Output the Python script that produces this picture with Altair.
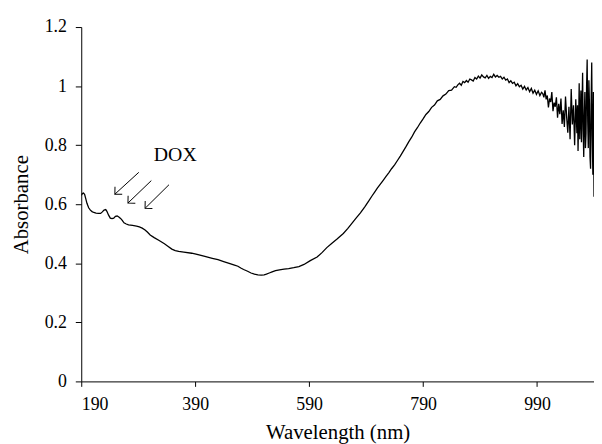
import altair as alt
import pandas as pd

# Spectrum (wavelength nm, absorbance)
wl_smooth = [190, 192, 194, 196, 198, 200, 203, 206, 209, 212, 216, 220, 224, 227, 230, 233, 235, 238, 241, 244,
             247, 250, 253, 256, 259, 262, 265, 269, 273, 280, 287, 292, 297, 302, 306, 311, 318, 326, 336, 342,
             349, 355, 361, 370, 384, 395, 407, 420, 430, 440, 451, 459, 465, 470, 475, 482, 488, 494, 500, 506,
             511, 515, 520, 525, 531, 538, 546, 554, 563, 572, 581, 592, 604, 613, 621, 630, 639, 650, 658, 665,
             672, 680, 688, 695]
ab_smooth = [0.630, 0.636, 0.638, 0.633, 0.618, 0.603, 0.588, 0.580, 0.575, 0.572, 0.570, 0.569, 0.569, 0.574, 0.580,
             0.582, 0.576, 0.563, 0.553, 0.551, 0.553, 0.559, 0.560, 0.557, 0.552, 0.545, 0.537, 0.533, 0.530, 0.528,
             0.526, 0.523, 0.519, 0.513, 0.506, 0.496, 0.487, 0.478, 0.466, 0.458, 0.448, 0.443, 0.440, 0.438, 0.434,
             0.429, 0.423, 0.417, 0.412, 0.406, 0.399, 0.394, 0.390, 0.384, 0.379, 0.373, 0.367, 0.363, 0.361, 0.360,
             0.361, 0.363, 0.367, 0.371, 0.375, 0.378, 0.380, 0.382, 0.385, 0.389, 0.396, 0.409, 0.421, 0.437, 0.453,
             0.468, 0.482, 0.501, 0.518, 0.535, 0.552, 0.571, 0.592, 0.612]

wl_rise = [700, 705, 710, 715, 720, 725, 730, 735, 740, 745, 750, 755, 760, 765, 770, 775, 780, 785, 790, 795,
           800, 805, 810, 815, 820, 825, 830, 835, 840, 845, 848]
ab_rise = [0.627, 0.641, 0.655, 0.668, 0.681, 0.694, 0.707, 0.721, 0.733, 0.748, 0.763, 0.779, 0.795, 0.812, 0.827,
           0.845, 0.859, 0.875, 0.889, 0.904, 0.914, 0.928, 0.936, 0.950, 0.955, 0.967, 0.973, 0.985, 0.986, 0.998,
           0.996]

wl_peak = [851, 854, 857, 860, 863, 866, 869, 872, 875, 878, 881, 884, 887, 890, 893, 896, 899, 902, 905, 908,
           911, 914, 917, 920, 923, 926, 929, 932, 935, 938, 941, 944, 947, 950, 953, 956, 959, 962, 965, 968,
           971, 974, 977, 980, 983, 986, 989, 992, 995, 998]
ab_peak = [1.004, 1.010, 1.003, 1.016, 1.012, 1.019, 1.013, 1.024, 1.021, 1.017, 1.029, 1.024, 1.034, 1.027, 1.038,
           1.031, 1.028, 1.036, 1.026, 1.033, 1.029, 1.040, 1.031, 1.036, 1.030, 1.033, 1.024, 1.030, 1.020, 1.024,
           1.012, 1.018, 1.009, 1.013, 1.001, 1.008, 0.998, 1.003, 0.990, 0.999, 0.987, 0.995, 0.981, 0.992, 0.976,
           0.986, 0.972, 0.984, 0.968, 0.979]

wl_noisy = [1000, 1002, 1004, 1006, 1008, 1010, 1012, 1014, 1016, 1018, 1020, 1022, 1024, 1026, 1028, 1030, 1032,
            1034, 1036, 1038, 1040, 1042, 1044, 1046, 1048, 1050, 1052, 1054, 1056, 1058]
ab_noisy = [0.975, 0.962, 0.986, 0.955, 0.968, 0.928, 0.958, 0.946, 0.980, 0.915, 0.944, 0.930, 0.962, 0.893, 0.940,
            0.905, 0.958, 0.872, 0.918, 0.862, 0.965, 0.895, 0.842, 0.930, 0.820, 0.990, 0.870, 0.935, 0.800, 0.955]

wl_end = [1060, 1061, 1062, 1063, 1064, 1065, 1066, 1067, 1068, 1069, 1070, 1071, 1072, 1073, 1074, 1075, 1076,
          1077, 1078, 1079, 1080, 1081, 1082, 1083, 1084, 1085, 1086, 1087, 1088, 1089, 1090]
ab_end = [0.840, 0.935, 0.780, 0.880, 1.010, 0.820, 0.900, 0.985, 0.810, 0.930, 1.045, 0.850, 0.760, 0.900, 0.980,
          0.790, 0.840, 1.000, 1.090, 0.880, 0.790, 1.020, 0.940, 0.760, 0.720, 0.950, 1.080, 0.830, 0.700, 0.980,
          0.625]

# Annotation arrows (start -> tip) and label
arrow_x0 = [291, 313, 344]
arrow_y0 = [0.708, 0.680, 0.666]
arrow_x1 = [249, 272, 302]
arrow_y1 = [0.634, 0.604, 0.586]
label_text = ["DOX"]
label_x = [355]
label_y = [0.768]

x_ticks = [190, 390, 590, 790, 990]
y_ticks = [0, 0.2, 0.4, 0.6, 0.8, 1.0, 1.2]

wl = wl_smooth + wl_rise + wl_peak + wl_noisy + wl_end
ab = ab_smooth + ab_rise + ab_peak + ab_noisy + ab_end
spec = pd.DataFrame({"wl": wl, "ab": ab})
arrows = pd.DataFrame({"x0": arrow_x0, "y0": arrow_y0, "x1": arrow_x1, "y1": arrow_y1})
labels = pd.DataFrame({"t": label_text, "x": label_x, "y": label_y})

FONT = "Liberation Serif"

xscale = alt.Scale(domain=[190, 1090], nice=False, zero=False)
yscale = alt.Scale(domain=[0, 1.2], nice=False)

line = alt.Chart(spec).mark_line(color="black", strokeWidth=1.3, clip=True).encode(
    x=alt.X("wl:Q", scale=xscale, title="Wavelength (nm)",
            axis=alt.Axis(values=x_ticks, format="d", titlePadding=9)),
    y=alt.Y("ab:Q", scale=yscale, title="Absorbance",
            axis=alt.Axis(values=y_ticks, format="~g", titlePadding=13)),
)

shafts = alt.Chart(arrows).mark_rule(color="black", strokeWidth=1).encode(
    x=alt.X("x0:Q", scale=xscale), y=alt.Y("y0:Q", scale=yscale),
    x2="x1:Q", y2="y1:Q",
)

heads = alt.Chart(arrows).mark_point(
    shape="M -1 1 L 0 0 L 1 1", filled=False, color="black", strokeWidth=1,
    size=110, angle=226, opacity=1,
).encode(
    x=alt.X("x1:Q", scale=xscale), y=alt.Y("y1:Q", scale=yscale),
)

text = alt.Chart(labels).mark_text(font=FONT, fontSize=20, color="black", align="center", baseline="middle").encode(
    x=alt.X("x:Q", scale=xscale), y=alt.Y("y:Q", scale=yscale), text="t:N",
)

chart = alt.layer(line, shafts, heads, text).properties(
    width=518, height=358,
    padding={"left": 74, "top": 17, "right": 0, "bottom": 61},
    autosize=alt.AutoSizeParams(type="none"),
).configure_view(stroke=None).configure_axis(
    grid=False, domainColor="black", tickColor="black", labelColor="black", titleColor="black",
    labelFont=FONT, titleFont=FONT, labelFontSize=18, titleFontSize=21,
    titleFontWeight="normal", tickSize=6, labelPadding=9, domainWidth=1, tickWidth=1,
).configure_axisX(tickSize=5)

chart.save("out.html", embed_options={"renderer": "svg", "actions": False})
